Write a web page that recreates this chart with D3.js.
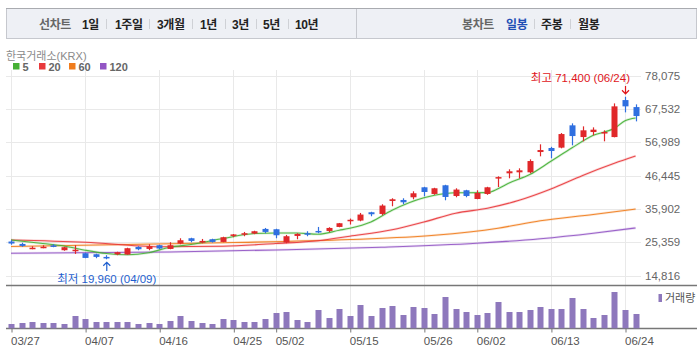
<!DOCTYPE html>
<html>
<head>
<meta charset="utf-8">
<script src="https://cdn.jsdelivr.net/npm/d3@7"></script>
<style>
  body { margin: 0; background: #fff; }
  svg text { font-family: "Liberation Sans", "Noto Sans CJK KR", sans-serif; }
</style>
</head>
<body>
<div id="chart"></div>
<script>
// trading days shown
const dates = ["03/27","03/28","03/31","04/01","04/02","04/03","04/04","04/07","04/08","04/09",
  "04/10","04/11","04/14","04/15","04/16","04/17","04/18","04/21","04/22","04/23",
  "04/24","04/25","04/28","04/29","04/30","05/02","05/07","05/08","05/09","05/12",
  "05/13","05/14","05/15","05/16","05/19","05/20","05/21","05/22","05/23","05/26",
  "05/27","05/28","05/29","05/30","06/02","06/04","06/05","06/09","06/10","06/11",
  "06/12","06/13","06/16","06/17","06/18","06/19","06/20","06/23","06/24","06/25"];

const opens = [25570,24810,23290,23610,24340,22820,22660,21870,21550,20700,
  21550,21460,23860,23230,24400,23230,24940,26610,25250,26300,
  25440,27500,27880,28100,29560,29460,25250,27340,28200,28920,
  28920,30190,32150,32210,34840,34300,38410,38730,39580,42740,
  40630,43380,39990,41800,39040,40630,45660,47170,47490,47490,
  53910,55180,55300,62360,58650,60240,59920,58650,70360,68140];
const highs = [25980,25190,24080,24400,24720,23920,24400,22030,21710,21240,
  22340,23610,24080,24720,24560,25350,26610,26770,26390,26460,
  27090,27940,28610,28990,29870,29620,27660,28200,28830,30190,
  30090,31450,32840,34620,34990,37370,39270,39270,41480,42900,
  42590,43540,42430,41950,41800,42900,46220,48440,48750,51600,
  56350,55560,59920,62990,62040,61720,60780,69310,71400,69000];
const lows = [24560,23920,23130,23450,23770,22660,21650,20290,20290,19960,
  21240,21390,22820,22820,23130,23130,24720,25350,25030,25250,
  25350,26930,27250,27880,28200,26610,25030,26300,27250,28200,
  28510,30090,30950,31990,33570,33890,36740,37370,38950,39900,
  40370,38630,39580,39580,38950,40370,42840,45590,45590,47170,
  52550,51920,55080,56030,57300,59190,57300,58560,66470,63620];
const closes = [24940,24180,23610,23920,24020,23770,22980,20380,20700,20230,
  22190,23450,23130,24080,23360,24400,25980,25760,25760,25440,
  26930,27820,28200,28830,28610,27560,27250,27970,27780,28610,
  29870,31360,32460,34110,34210,36960,38950,38000,40850,41260,
  42430,39680,42020,39990,40940,42740,45970,47810,48120,51060,
  54540,54230,59600,58970,60780,60990,60240,68370,68370,65300];
// volume, thousand shares
const volumesK = [430,530,630,530,530,430,1230,930,630,630,
  630,630,430,530,430,730,1230,730,530,430,
  930,830,630,630,930,1530,1630,830,630,1830,
  1030,1930,1230,2330,1230,2030,2230,1330,2130,2030,
  1430,3130,1930,1630,1330,1530,2630,1630,1630,1830,
  2130,1930,1930,3030,1930,1030,1330,3630,1830,1430];

const ma5Days = ["03/27","04/01","04/03","04/07","04/09","04/11","04/15","04/17","04/21","04/24","04/29","05/02","05/08","05/12","05/14","05/15","05/19","05/21","05/26","05/27","05/29","06/04","06/05","06/09","06/11","06/13","06/17","06/19","06/23","06/24","06/25"];
const ma5 = [26080,24940,24180,22820,21770,21390,22030,23770,24620,26520,28100,28290,28290,27880,29140,29780,31770,35470,39420,40210,41000,41070,42270,44010,46760,50970,55240,59190,61410,63780,64670];
const ma20Days = ["03/27","04/07","04/16","04/24","05/02","05/12","05/15","05/21","05/26","05/29","06/04","06/10","06/13","06/18","06/23","06/25"];
const ma20 = [26080,25350,23920,24080,24940,25820,27250,29300,31770,34520,36100,38630,42200,46500,50340,52640];
const ma60Days = ["03/27","04/17","04/25","05/15","05/27","06/05","06/12","06/19","06/25"];
const ma60 = [23990,24870,25250,26200,27560,29800,32150,34140,35850];
const ma120Days = ["03/27","04/17","05/02","05/20","06/02","06/12","06/19","06/25"];
const ma120 = [21870,22280,22910,23770,25030,26460,28200,29870];

const yTicks = [14816,25359,35902,46445,56989,67532,78075];
const xTicks = ["03/27","04/07","04/16","04/25","05/02","05/15","05/26","06/02","06/13","06/24"];

const lineMenu = ["1일","1주일","3개월","1년","3년","5년","10년"];
const candleMenu = ["일봉","주봉","월봉"];

const W = 699, H = 354;
const upColor = "#e0282a", downColor = "#2f6fe0";

const svg = d3.select("#chart").append("svg")
  .attr("width", W).attr("height", H);

const x = d3.scalePoint().domain(dates).range([11, 635.6]);
const y = d3.scaleLinear().domain([14816, 78075]).range([275.5, 75.7]);
const yv = d3.scaleLinear().domain([0, 4000]).range([328.3, 288.3]);

// ---- top menu bar
const bar = svg.append("g");
bar.append("rect")
  .attr("x", 6.5).attr("y", 8.5).attr("width", 690).attr("height", 30)
  .attr("fill", "#eef0f5").attr("stroke", "#c6c8ce");
bar.append("line").attr("x1", 6).attr("x2", 697).attr("y1", 8.5).attr("y2", 8.5)
  .attr("stroke", "#a9abb0");
bar.append("line").attr("x1", 356.5).attr("x2", 356.5).attr("y1", 9).attr("y2", 38)
  .attr("stroke", "#c6c8ce");

const menuText = (g, txt, xx, color) => g.append("text")
  .attr("x", xx).attr("y", 28.5)
  .attr("font-size", 12).attr("font-weight", "bold")
  .attr("letter-spacing", -0.4)
  .attr("fill", color).text(txt);

menuText(bar, "선차트", 39, "#666");
const lineX = [82, 115, 157, 200, 232, 263, 295];
const lineDiv = [106.5, 149.5, 192.5, 225.5, 256.5, 288.5];
lineMenu.forEach((t, i) => menuText(bar, t, lineX[i], "#222"));
menuText(bar, "봉차트", 462, "#666");
const candleX = [506, 541, 578];
const candleDiv = [534.5, 570.5];
candleMenu.forEach((t, i) => menuText(bar, t, candleX[i], i === 0 ? "#1f4fb5" : "#222"));
lineDiv.concat(candleDiv).forEach(d => {
  bar.append("line").attr("x1", d).attr("x2", d).attr("y1", 19).attr("y2", 29)
    .attr("stroke", "#cfd1d6");
});

// ---- legend
svg.append("text").attr("x", 6).attr("y", 60).attr("font-size", 11)
  .attr("fill", "#8a8a8a").text("한국거래소(KRX)");

const legend = [
  { label: "5", color: "#45b035", x: 13 },
  { label: "20", color: "#e8393b", x: 39 },
  { label: "60", color: "#f07c1c", x: 69 },
  { label: "120", color: "#9255c4", x: 100 }
];
legend.forEach(l => {
  svg.append("rect").attr("x", l.x).attr("y", 63).attr("width", 6.5).attr("height", 6.5)
    .attr("fill", l.color);
  svg.append("text").attr("x", l.x + 9.5).attr("y", 70.5).attr("font-size", 11)
    .attr("font-weight", "bold").attr("fill", "#666").text(l.label);
});

// ---- grid
const grid = svg.append("g");
grid.selectAll("line.h").data(yTicks).join("line")
  .attr("x1", 6).attr("x2", 641)
  .attr("y1", d => Math.round(y(d)) + 0.5).attr("y2", d => Math.round(y(d)) + 0.5)
  .attr("stroke", "#e9e9e9");
grid.selectAll("line.v").data(xTicks).join("line")
  .attr("x1", d => Math.round(x(d)) + 0.5).attr("x2", d => Math.round(x(d)) + 0.5)
  .attr("y1", 70).attr("y2", 328)
  .attr("stroke", "#e9e9e9");

// y axis labels
svg.append("g")
  .attr("transform", "translate(645,0)")
  .call(d3.axisRight(y).tickValues(yTicks).tickSize(0).tickPadding(0).tickFormat(d3.format(",")))
  .call(g => g.select(".domain").remove())
  .call(g => g.selectAll("text").attr("font-size", 11.5).attr("fill", "#666")
    .attr("font-family", "Liberation Sans, sans-serif"));

// ---- moving averages
const maLine = d3.line().x(d => x(d[0])).y(d => y(d[1])).curve(d3.curveMonotoneX);
const maSets = [
  { days: ma120Days, vals: ma120, color: "#9255c4" },
  { days: ma60Days, vals: ma60, color: "#f07c1c" },
  { days: ma20Days, vals: ma20, color: "#e8393b" },
  { days: ma5Days, vals: ma5, color: "#45b035" }
];
maSets.forEach(m => {
  const pts = m.days.map((d, i) => [d, m.vals[i]]);
  svg.append("path").attr("d", maLine(pts)).attr("fill", "none")
    .attr("stroke", m.color).attr("stroke-width", 2.6).attr("stroke-opacity", 0.18);
  svg.append("path").attr("d", maLine(pts)).attr("fill", "none")
    .attr("stroke", m.color).attr("stroke-width", 1.1).attr("stroke-opacity", 0.9);
});

// ---- candles
const candles = svg.append("g");
dates.forEach((d, i) => {
  const up = closes[i] >= opens[i];
  const c = up ? upColor : downColor;
  const cx = Math.round(x(d));
  candles.append("line")
    .attr("x1", cx + 0.5).attr("x2", cx + 0.5)
    .attr("y1", y(highs[i])).attr("y2", y(lows[i]))
    .attr("stroke", c).attr("stroke-width", 1.2);
  const top = y(Math.max(opens[i], closes[i]));
  const bot = y(Math.min(opens[i], closes[i]));
  candles.append("rect")
    .attr("x", cx - 2.5).attr("width", 6)
    .attr("y", top).attr("height", Math.max(1.5, bot - top))
    .attr("fill", c);
});

// ---- annotations
const iHi = d3.maxIndex(highs), iLo = d3.minIndex(lows);
const fmt = d3.format(",");
const hx = x(dates[iHi]), lx = x(dates[iLo]);
svg.append("text").attr("x", hx + 5).attr("y", 82).attr("text-anchor", "end")
  .attr("font-size", 11.5).attr("fill", "#e0161b")
  .text(`최고 ${fmt(highs[iHi])} (${dates[iHi]})`);
svg.append("path")
  .attr("d", `M${hx + 0.5},86 V${y(highs[iHi]) - 3} M${hx - 3},${y(highs[iHi]) - 6.5} L${hx + 0.5},${y(highs[iHi]) - 3} L${hx + 4},${y(highs[iHi]) - 6.5}`)
  .attr("fill", "none").attr("stroke", "#e0161b").attr("stroke-width", 1.2);
svg.append("text").attr("x", lx + 0.5).attr("y", 282.5).attr("text-anchor", "middle")
  .attr("font-size", 11.5).attr("fill", "#1f5fcf")
  .text(`최저 ${fmt(lows[iLo])} (${dates[iLo]})`);
svg.append("path")
  .attr("d", `M${lx + 0.5},271 V${y(lows[iLo]) + 3} M${lx - 3},${y(lows[iLo]) + 6.5} L${lx + 0.5},${y(lows[iLo]) + 3} L${lx + 4},${y(lows[iLo]) + 6.5}`)
  .attr("fill", "none").attr("stroke", "#1f5fcf").attr("stroke-width", 1.2);

// ---- separators
[285.5, 328.5].forEach(yy => {
  svg.append("line").attr("x1", 6).attr("x2", 697).attr("y1", yy).attr("y2", yy)
    .attr("stroke", "#777").attr("stroke-width", 1.5);
});

// ---- volume
svg.append("g").selectAll("rect").data(dates).join("rect")
  .attr("x", d => Math.round(x(d)) - 2.5).attr("width", 6)
  .attr("y", (d, i) => yv(volumesK[i]))
  .attr("height", (d, i) => yv(0) - yv(volumesK[i]))
  .attr("fill", "#8e78bc");

svg.append("rect").attr("x", 658.5).attr("y", 294).attr("width", 3.5).attr("height", 8)
  .attr("fill", "#8e78bc");
svg.append("text").attr("x", 665).attr("y", 302).attr("font-size", 11)
  .attr("fill", "#555").text("거래량");

// x axis
svg.append("g")
  .attr("transform", "translate(0.5,328.5)")
  .call(d3.axisBottom(x).tickValues(xTicks).tickSize(4).tickPadding(4))
  .call(g => g.select(".domain").remove())
  .call(g => g.selectAll(".tick line").attr("stroke", "#777"))
  .call(g => g.selectAll("text").attr("text-anchor", "start").attr("x", -1)
    .attr("font-size", 11.5).attr("fill", "#555")
    .attr("font-family", "Liberation Sans, sans-serif"));
</script>
</body>
</html>
